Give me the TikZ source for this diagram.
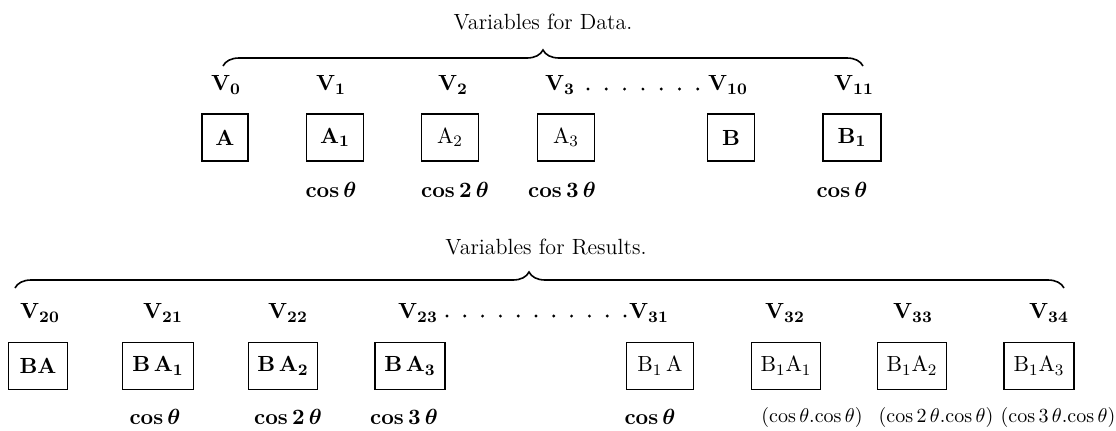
\documentclass[tikz,border=0pt]{standalone}
\usepackage{amsmath}
\usepackage{tikz}
\usetikzlibrary{decorations.pathreplacing}
\tikzset{
  cell/.style={rectangle, draw=black, line width=0.9pt, inner sep=0pt,
    minimum height=23.5pt, font=\fontsize{11}{13}\selectfont},
  vlabel/.style={font=\fontsize{11}{13}\selectfont},
  coslabel/.style={font=\fontsize{11}{13}\selectfont\boldmath},
  prodlabel/.style={font=\fontsize{10}{12}\selectfont, inner sep=0pt},
  heading/.style={font=\fontsize{11}{13}\selectfont},
  bracket/.style={decorate, decoration={brace, amplitude=8pt}, line width=0.8pt}
}
\newcommand{\kos}{\mathrm{cos}\,}

\begin{document}
\begin{tikzpicture}[x=0.5pt, y=-0.5pt]
  \useasboundingbox (0,0) rectangle (1116,430);

  % Data
  \node[heading] (hdata) at (543,22) {Variables for Data.};
  \coordinate (dl) at (223,66);
  \coordinate (dr) at (863,66);
  \draw[bracket] (dl) -- (dr);

  \node[vlabel] (v0) at (226,85) {$\mathbf{V_{0}}$};
  \node[vlabel] (v1) at (331,85) {$\mathbf{V_{1}}$};
  \node[vlabel] (v2) at (453,85) {$\mathbf{V_{2}}$};
  \node[vlabel] (v3) at (560,85) {$\mathbf{V_{3}}$};
  \node[vlabel] (v10) at (728,85) {$\mathbf{V_{10}}$};
  \node[vlabel] (v11) at (854,85) {$\mathbf{V_{11}}$};
  \foreach \i in {0,...,6}
    \fill (588+\i*18.3,89) circle (0.8pt);

  \node[cell, minimum width=23pt] (a) at (225,137.5) {$\mathbf{A}$};
  \node[cell, minimum width=28.5pt] (a1) at (335,137.5) {$\mathbf{A_1}$};
  \node[cell, minimum width=28.5pt] (a2) at (450,137.5) {$\mathrm{A_2}$};
  \node[cell, minimum width=28.5pt] (a3) at (566,137.5) {$\mathrm{A_3}$};
  \node[cell, minimum width=23.5pt] (b) at (731,137.5) {$\mathbf{B}$};
  \node[cell, minimum width=29pt] (b1) at (852,137.5) {$\mathbf{B_1}$};

  \node[coslabel] (ca1) at (331,190) {$\cos\theta$};
  \node[coslabel] (ca2) at (455,190) {$\cos 2\,\theta$};
  \node[coslabel] (ca3) at (562,190) {$\cos 3\,\theta$};
  \node[coslabel] (cb1) at (842,190) {$\cos\theta$};

  % Results
  \node[heading] (hres) at (546,247) {Variables for Results.};
  \coordinate (rl) at (15,288);
  \coordinate (rr) at (1064,288);
  \draw[bracket, decoration={aspect=0.49}] (rl) -- (rr);

  \node[vlabel] (v20) at (40,313) {$\mathbf{V_{20}}$};
  \node[vlabel] (v21) at (163,313) {$\mathbf{V_{21}}$};
  \node[vlabel] (v22) at (288,313) {$\mathbf{V_{22}}$};
  \node[vlabel] (v23) at (418,313) {$\mathbf{V_{23}}$};
  \node[vlabel] (v31) at (649,313) {$\mathbf{V_{31}}$};
  \node[vlabel] (v32) at (785,313) {$\mathbf{V_{32}}$};
  \node[vlabel] (v33) at (913,313) {$\mathbf{V_{33}}$};
  \node[vlabel] (v34) at (1049,313) {$\mathbf{V_{34}}$};
  \foreach \i in {0,...,10}
    \fill (447+\i*17.8,316) circle (0.8pt);

  \node[cell, minimum width=29.5pt] (ba) at (38,366) {$\mathbf{BA}$};
  \node[cell, minimum width=35.5pt] (ba1) at (158,366) {$\mathbf{B\,A_1}$};
  \node[cell, minimum width=34.5pt] (ba2) at (283,366) {$\mathbf{B\,A_2}$};
  \node[cell, minimum width=35pt] (ba3) at (410,366) {$\mathbf{B\,A_3}$};
  \node[cell, minimum width=33.5pt] (bba) at (660,366) {$\mathrm{B_1\,A}$};
  \node[cell, minimum width=34.5pt] (bba1) at (786,366) {$\mathrm{B_1A_1}$};
  \node[cell, minimum width=34.5pt] (bba2) at (912,366) {$\mathrm{B_1A_2}$};
  \node[cell, minimum width=35pt] (bba3) at (1039,366) {$\mathrm{B_1A_3}$};

  \node[coslabel] (cba1) at (155,417) {$\cos\theta$};
  \node[coslabel] (cba2) at (288,417) {$\cos 2\,\theta$};
  \node[coslabel] (cba3) at (404,417) {$\cos 3\,\theta$};
  \node[coslabel] (cbba) at (650,417) {$\cos\theta$};
  \node[prodlabel] (cbba1) at (812,417) {$(\kos\theta.\kos\theta)$};
  \node[prodlabel] (cbba2) at (936,417) {$(\kos 2\,\theta.\kos\theta)$};
  \node[prodlabel] (cbba3) at (1058,417) {$(\kos 3\,\theta.\kos\theta)$};
\end{tikzpicture}
\end{document}
